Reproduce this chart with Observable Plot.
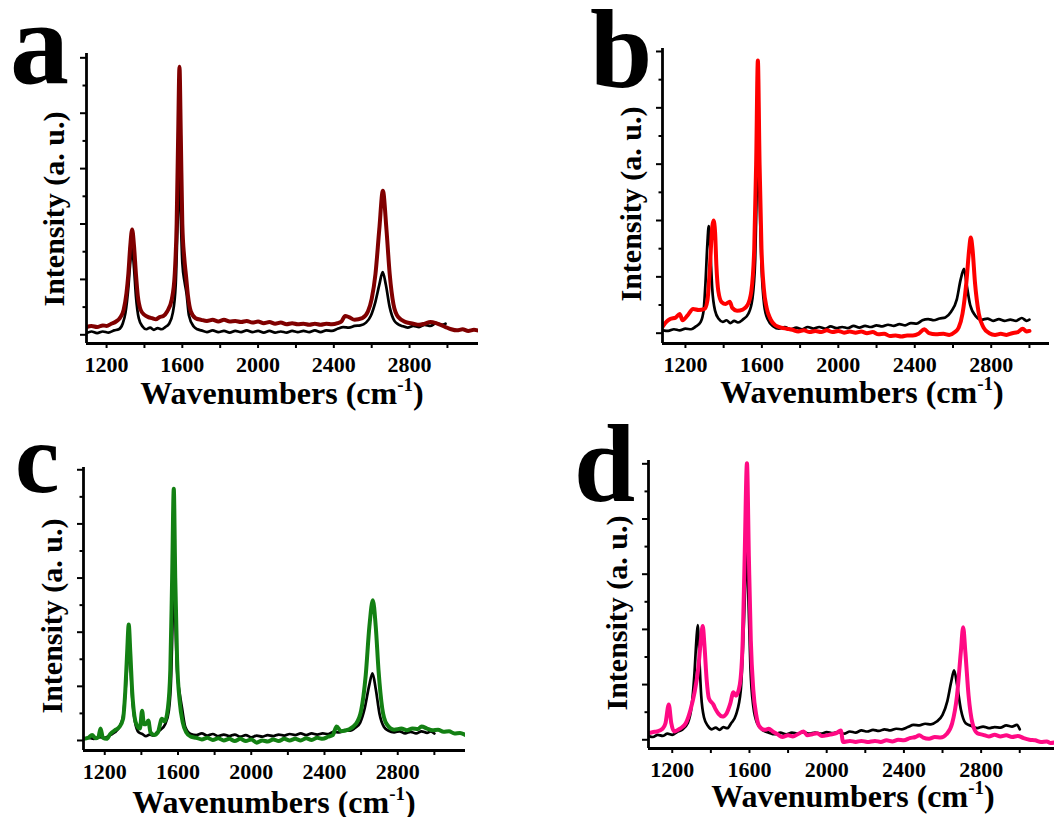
<!DOCTYPE html>
<html><head><meta charset="utf-8">
<script src="https://cdn.jsdelivr.net/npm/d3@7"></script>
<script src="https://cdn.jsdelivr.net/npm/@observablehq/plot@0.6"></script>
<style>
body{margin:0;background:#fff;}
#fig{position:relative;width:1054px;height:817px;overflow:hidden;background:#fff;}
#fig svg{position:absolute;overflow:visible;}
</style></head><body><div id="fig"></div>
<script>
// ---------- data: [wavenumber (cm-1), intensity (a.u., in tick units)] ----------
const aBlack = [[1094,0.03],[1120,0.06],[1150,0.03],[1180,0.06],[1210,0.04],[1240,0.08],[1265,0.1],[1285,0.2],[1300,0.4],[1315,0.85],[1325,1.3],[1335,1.55],[1345,1.2],[1355,0.7],[1370,0.3],[1390,0.15],[1410,0.1],[1430,0.13],[1450,0.09],[1470,0.12],[1490,0.1],[1510,0.14],[1530,0.2],[1550,0.4],[1565,0.9],[1575,2.0],[1585,3.0],[1593,2.0],[1600,1.3],[1612,0.95],[1622,0.75],[1635,0.35],[1660,0.15],[1680,0.1],[1700,0.08],[1730,0.05],[1760,0.08],[1790,0.05],[1820,0.07],[1850,0.04],[1880,0.07],[1910,0.05],[1940,0.08],[1970,0.05],[2000,0.07],[2030,0.04],[2060,0.07],[2090,0.04],[2120,0.06],[2150,0.04],[2180,0.07],[2210,0.05],[2240,0.07],[2270,0.05],[2300,0.08],[2330,0.05],[2360,0.08],[2390,0.07],[2420,0.11],[2450,0.14],[2480,0.13],[2510,0.16],[2540,0.17],[2570,0.22],[2595,0.34],[2620,0.6],[2640,0.9],[2658,1.13],[2675,0.9],[2695,0.5],[2720,0.25],[2740,0.19],[2760,0.16],[2790,0.13],[2820,0.16],[2850,0.14],[2880,0.18],[2910,0.16],[2940,0.21],[2970,0.18],[2990,0.2]];
const aSample = [[1094,0.14],[1120,0.16],[1150,0.14],[1180,0.17],[1200,0.16],[1225,0.2],[1250,0.24],[1270,0.3],[1290,0.45],[1305,0.75],[1315,1.1],[1325,1.6],[1335,1.9],[1345,1.6],[1355,1.1],[1365,0.7],[1380,0.45],[1400,0.36],[1420,0.32],[1440,0.3],[1460,0.28],[1480,0.32],[1500,0.34],[1520,0.42],[1545,0.65],[1560,1.1],[1570,2.0],[1578,3.6],[1585,4.84],[1592,3.6],[1600,2.0],[1610,1.4],[1620,1.05],[1630,0.7],[1645,0.42],[1670,0.3],[1700,0.27],[1730,0.25],[1760,0.27],[1790,0.24],[1820,0.27],[1850,0.24],[1880,0.25],[1910,0.23],[1940,0.25],[1970,0.22],[2000,0.24],[2030,0.21],[2060,0.23],[2090,0.2],[2120,0.22],[2150,0.19],[2180,0.21],[2210,0.19],[2240,0.2],[2270,0.18],[2300,0.2],[2330,0.18],[2360,0.2],[2390,0.19],[2420,0.21],[2440,0.24],[2460,0.34],[2480,0.32],[2510,0.27],[2550,0.3],[2580,0.42],[2600,0.65],[2620,1.1],[2640,1.9],[2659,2.6],[2678,1.9],[2695,1.1],[2715,0.55],[2740,0.32],[2780,0.23],[2820,0.2],[2850,0.18],[2880,0.2],[2910,0.23],[2940,0.21],[2970,0.17],[2990,0.14],[3020,0.1],[3050,0.08],[3080,0.1],[3110,0.07],[3140,0.09],[3170,0.07]];

const bBlack = [[1082,0.05],[1110,0.04],[1140,0.07],[1170,0.05],[1200,0.08],[1230,0.07],[1255,0.12],[1280,0.2],[1295,0.4],[1305,0.9],[1315,1.6],[1322,1.9],[1330,1.5],[1340,0.8],[1355,0.4],[1375,0.25],[1395,0.2],[1415,0.23],[1435,0.18],[1455,0.22],[1475,0.19],[1500,0.24],[1530,0.35],[1550,0.6],[1565,1.3],[1573,2.5],[1580,3.3],[1588,2.4],[1598,1.2],[1612,0.5],[1630,0.25],[1660,0.12],[1690,0.08],[1720,0.11],[1750,0.07],[1780,0.1],[1810,0.07],[1840,0.11],[1870,0.08],[1900,0.11],[1930,0.08],[1960,0.12],[1990,0.09],[2020,0.11],[2050,0.09],[2080,0.13],[2110,0.1],[2140,0.13],[2170,0.11],[2200,0.14],[2230,0.12],[2260,0.15],[2290,0.13],[2320,0.16],[2350,0.14],[2380,0.18],[2410,0.17],[2440,0.23],[2470,0.25],[2500,0.23],[2530,0.26],[2560,0.28],[2590,0.38],[2620,0.6],[2640,0.95],[2658,1.14],[2672,0.85],[2690,0.5],[2720,0.3],[2750,0.24],[2780,0.26],[2810,0.22],[2840,0.25],[2870,0.22],[2900,0.24],[2930,0.22],[2960,0.27],[2985,0.22],[3000,0.24]];
const bSample = [[1082,0.12],[1100,0.2],[1120,0.25],[1150,0.28],[1170,0.34],[1185,0.23],[1210,0.31],[1240,0.43],[1270,0.41],[1300,0.43],[1315,0.58],[1328,1.17],[1340,1.88],[1347,2.0],[1355,1.8],[1362,1.2],[1372,0.75],[1390,0.55],[1410,0.52],[1432,0.56],[1445,0.45],[1470,0.4],[1500,0.42],[1525,0.5],[1545,0.75],[1560,1.5],[1570,3.0],[1579,4.84],[1588,3.0],[1598,1.5],[1610,0.8],[1625,0.45],[1645,0.25],[1670,0.14],[1700,0.1],[1730,0.08],[1760,0.06],[1790,0.03],[1820,0.05],[1850,0.02],[1880,0.04],[1910,0.02],[1940,0.05],[1970,0.02],[2000,0.04],[2030,0.01],[2060,0.03],[2090,0.01],[2120,0.03],[2150,0.0],[2180,0.02],[2210,-0.02],[2240,-0.01],[2270,-0.05],[2300,-0.04],[2330,-0.06],[2360,-0.04],[2390,-0.04],[2420,-0.01],[2450,0.07],[2475,0.0],[2510,-0.02],[2550,-0.01],[2580,-0.03],[2610,0.02],[2630,0.1],[2650,0.35],[2670,0.9],[2685,1.5],[2693,1.7],[2702,1.5],[2715,0.9],[2735,0.35],[2760,0.1],[2790,0.0],[2820,-0.03],[2850,-0.01],[2880,-0.03],[2910,0.0],[2940,0.02],[2965,0.08],[2985,0.03],[3000,0.04]];

const cBlack = [[1085,0.03],[1110,0.05],[1140,0.03],[1170,0.06],[1200,0.05],[1230,0.1],[1255,0.15],[1280,0.25],[1300,0.45],[1315,1.0],[1325,1.5],[1331,1.75],[1340,1.4],[1350,0.8],[1365,0.35],[1385,0.15],[1405,0.12],[1425,0.08],[1445,0.11],[1465,0.09],[1485,0.15],[1505,0.2],[1530,0.3],[1550,0.55],[1563,1.2],[1572,2.4],[1578,3.1],[1585,2.3],[1595,1.3],[1608,0.9],[1622,0.6],[1640,0.25],[1670,0.12],[1700,0.1],[1730,0.13],[1760,0.09],[1790,0.12],[1820,0.08],[1850,0.11],[1880,0.08],[1910,0.11],[1940,0.07],[1970,0.1],[2000,0.06],[2030,0.09],[2060,0.07],[2090,0.1],[2120,0.08],[2150,0.11],[2180,0.09],[2210,0.12],[2240,0.1],[2270,0.13],[2300,0.1],[2330,0.13],[2360,0.11],[2390,0.13],[2420,0.12],[2450,0.16],[2480,0.15],[2510,0.19],[2540,0.18],[2570,0.24],[2595,0.33],[2620,0.6],[2643,1.0],[2662,1.24],[2680,0.95],[2700,0.5],[2725,0.25],[2750,0.18],[2780,0.15],[2810,0.17],[2840,0.13],[2870,0.16],[2900,0.13],[2930,0.17],[2960,0.14],[2980,0.17],[3000,0.13]];
const cSample = [[1085,0.03],[1110,0.05],[1131,0.1],[1150,0.04],[1165,0.06],[1177,0.22],[1190,0.05],[1210,0.03],[1230,0.12],[1260,0.2],[1280,0.25],[1300,0.4],[1312,0.9],[1322,1.6],[1331,2.14],[1340,1.6],[1350,0.9],[1362,0.45],[1375,0.28],[1392,0.22],[1404,0.55],[1414,0.3],[1426,0.3],[1438,0.37],[1450,0.15],[1470,0.1],[1490,0.15],[1512,0.4],[1527,0.35],[1545,0.6],[1558,1.3],[1568,3.0],[1577,4.65],[1585,3.0],[1595,1.5],[1610,0.7],[1625,0.35],[1645,0.15],[1670,0.07],[1700,0.05],[1730,0.02],[1760,0.05],[1790,0.01],[1820,0.04],[1850,0.0],[1880,0.03],[1910,-0.01],[1940,0.03],[1970,-0.01],[2000,0.02],[2030,-0.04],[2060,0.0],[2090,-0.02],[2120,0.02],[2150,-0.01],[2180,0.03],[2210,0.0],[2240,0.03],[2270,0.0],[2300,0.04],[2330,0.01],[2360,0.05],[2390,0.03],[2420,0.07],[2445,0.1],[2466,0.26],[2490,0.17],[2530,0.2],[2570,0.3],[2600,0.55],[2625,1.2],[2645,2.1],[2664,2.59],[2680,2.1],[2695,1.3],[2715,0.6],[2740,0.3],[2780,0.2],[2820,0.22],[2850,0.19],[2880,0.22],[2910,0.21],[2930,0.26],[2960,0.22],[2990,0.19],[3020,0.2],[3050,0.16],[3080,0.17],[3110,0.13],[3140,0.14],[3170,0.1]];

const dBlack = [[1078,0.07],[1100,0.05],[1125,0.09],[1150,0.07],[1175,0.11],[1200,0.09],[1225,0.14],[1250,0.18],[1280,0.3],[1300,0.6],[1315,1.2],[1325,1.8],[1332,2.08],[1340,1.5],[1350,0.8],[1365,0.4],[1385,0.25],[1405,0.19],[1425,0.22],[1445,0.18],[1465,0.23],[1485,0.21],[1505,0.3],[1530,0.45],[1555,0.9],[1570,2.0],[1580,3.0],[1588,3.6],[1595,2.5],[1605,1.3],[1620,0.6],[1640,0.3],[1670,0.17],[1700,0.13],[1730,0.1],[1760,0.13],[1790,0.1],[1820,0.13],[1850,0.11],[1880,0.14],[1910,0.11],[1940,0.13],[1970,0.11],[2000,0.14],[2030,0.12],[2060,0.14],[2090,0.11],[2120,0.15],[2150,0.13],[2180,0.17],[2210,0.15],[2240,0.18],[2270,0.16],[2300,0.19],[2330,0.17],[2360,0.2],[2390,0.19],[2420,0.23],[2450,0.27],[2480,0.26],[2510,0.29],[2540,0.28],[2570,0.33],[2600,0.45],[2625,0.7],[2645,1.05],[2660,1.26],[2675,1.0],[2695,0.55],[2720,0.3],[2750,0.25],[2780,0.21],[2810,0.24],[2840,0.21],[2870,0.23],[2900,0.22],[2930,0.26],[2960,0.24],[2985,0.27],[3000,0.19]];
const dSample = [[1078,0.12],[1102,0.14],[1120,0.15],[1150,0.2],[1165,0.3],[1182,0.64],[1195,0.3],[1210,0.15],[1240,0.2],[1270,0.3],[1295,0.55],[1315,0.85],[1335,1.3],[1348,1.8],[1358,2.06],[1367,1.7],[1378,1.1],[1390,0.75],[1413,0.64],[1425,0.55],[1440,0.47],[1460,0.42],[1480,0.47],[1500,0.65],[1517,0.86],[1530,0.8],[1550,1.0],[1565,1.8],[1575,3.3],[1587,5.01],[1597,3.3],[1607,1.8],[1620,0.9],[1635,0.45],[1650,0.25],[1680,0.18],[1700,0.2],[1720,0.15],[1745,0.1],[1770,0.05],[1800,0.08],[1825,0.06],[1850,0.1],[1880,0.15],[1900,0.08],[1925,0.1],[1950,0.12],[1975,0.07],[2000,0.08],[2025,0.1],[2050,0.12],[2073,0.17],[2085,-0.04],[2120,-0.02],[2150,-0.04],[2180,-0.02],[2210,-0.04],[2250,-0.02],[2280,-0.04],[2310,-0.01],[2340,-0.03],[2370,0.0],[2400,-0.01],[2430,0.03],[2460,0.05],[2480,0.08],[2500,0.04],[2530,0.02],[2560,0.05],[2590,0.04],[2620,0.1],[2650,0.3],[2675,0.8],[2695,1.6],[2707,2.04],[2718,1.6],[2735,0.8],[2755,0.3],[2780,0.12],[2810,0.09],[2840,0.06],[2870,0.09],[2900,0.06],[2930,0.08],[2960,0.05],[2990,0.07],[3020,0.03],[3050,0.0],[3080,-0.01],[3110,-0.04],[3140,-0.03],[3160,-0.06],[3180,-0.05]];

const xMajorTicks = [1200, 1600, 2000, 2400, 2800];
const xMinorTicks = [1400, 1800, 2200, 2600, 3000];
const yMajorTicks = [0, 1, 2, 3, 4, 5];
const yMinorTicks = [0.5, 1.5, 2.5, 3.5, 4.5];
const panelLetters = ["a", "b", "c", "d"];
const sampleColors = ["#800000", "#ff0000", "#138013", "#ff0a84"];
const xTitle = "Wavenumbers (cm";
const xTitleSup = "-1";
const yTitle = "Intensity (a. u.)";

// ---------- layout ----------
const panels = [
  {ref: aBlack, sample: aSample, left: 0, top: 0, width: 527, height: 420,
   m: {l: 86, t: 53, r: 49, b: 77}, xd: [1094, 3164], yd: [-0.157, 5.078],
   letter: {x: 10, y: 83, size: 118}, yt: {x: 64, y: 209}, xt: {x: 282, y: 404}},
  {ref: bBlack, sample: bSample, left: 527, top: 0, width: 527, height: 420,
   m: {l: 135, t: 48, r: 5, b: 77}, xd: [1080, 3105], yd: [-0.183, 5.053],
   letter: {x: 63, y: 87, size: 112}, yt: {x: 114, y: 204}, xt: {x: 335, y: 403}},
  {ref: cBlack, sample: cSample, left: 0, top: 420, width: 527, height: 397,
   m: {l: 83, t: 47, r: 62, b: 67}, xd: [1084, 3170], yd: [-0.185, 5.042],
   letter: {x: 15, y: 72, size: 100}, yt: {x: 62, y: 196}, xt: {x: 274, y: 393}},
  {ref: dBlack, sample: dSample, left: 527, top: 420, width: 527, height: 397,
   m: {l: 121, t: 40, r: 0, b: 69}, xd: [1077, 3180], yd: [-0.158, 5.06],
   letter: {x: 47, y: 81, size: 110}, yt: {x: 100, y: 193}, xt: {x: 326, y: 387}}
];

const FONT = "'Liberation Serif','Times New Roman',Times,serif";
const fig = document.getElementById("fig");

panels.forEach((p, i) => {
  const svg = Plot.plot({
    width: p.width, height: p.height,
    marginLeft: p.m.l, marginTop: p.m.t, marginRight: p.m.r, marginBottom: p.m.b,
    x: {domain: p.xd}, y: {domain: p.yd},
    style: {fontFamily: FONT, fontWeight: "bold", fontSize: "22px", background: "transparent", color: "#000", overflow: "visible"},
    marks: [
      Plot.line(p.ref, {x: d => d[0], y: d => d[1], stroke: "#000", strokeWidth: 2.7, curve: "monotone-x", clip: true}),
      Plot.line(p.sample, {x: d => d[0], y: d => d[1], stroke: sampleColors[i], strokeWidth: 4, curve: "monotone-x", clip: true}),
      Plot.axisX({ticks: xMajorTicks, tickSize: 5, tickPadding: 8, strokeWidth: 2, fontSize: 22, tickFormat: d => String(d), label: null}),
      Plot.axisX({ticks: xMinorTicks, tickSize: 5, strokeWidth: 2, tickFormat: () => "", label: null}),
      Plot.axisY({ticks: yMajorTicks, tickSize: 6, strokeWidth: 2, tickFormat: () => "", label: null}),
      Plot.axisY({ticks: yMinorTicks, tickSize: 3.5, strokeWidth: 2, tickFormat: () => "", label: null}),
      Plot.ruleX([p.xd[0]], {stroke: "#000", strokeWidth: 2.8}),
      Plot.ruleY([p.yd[0]], {stroke: "#000", strokeWidth: 2.8})
    ]
  });
  svg.style.left = p.left + "px";
  svg.style.top = p.top + "px";
  const s = d3.select(svg);
  s.append("text")
    .attr("x", p.letter.x).attr("y", p.letter.y)
    .attr("text-anchor", "start")
    .attr("font-family", FONT).attr("font-weight", "bold").attr("font-size", p.letter.size)
    .attr("fill", "#000").text(panelLetters[i]);
  s.append("text")
    .attr("transform", `translate(${p.yt.x},${p.yt.y}) rotate(-90)`)
    .attr("text-anchor", "middle")
    .attr("font-family", FONT).attr("font-weight", "bold").attr("font-size", 30)
    .attr("fill", "#000").text(yTitle);
  const xt = s.append("text")
    .attr("x", p.xt.x).attr("y", p.xt.y).attr("text-anchor", "middle")
    .attr("font-family", FONT).attr("font-weight", "bold").attr("font-size", 32)
    .attr("fill", "#000");
  xt.append("tspan").text(xTitle);
  xt.append("tspan").attr("font-size", 19).attr("dy", -13).text(xTitleSup);
  xt.append("tspan").attr("dy", 13).text(")");
  fig.appendChild(svg);
});
</script>
</body></html>
